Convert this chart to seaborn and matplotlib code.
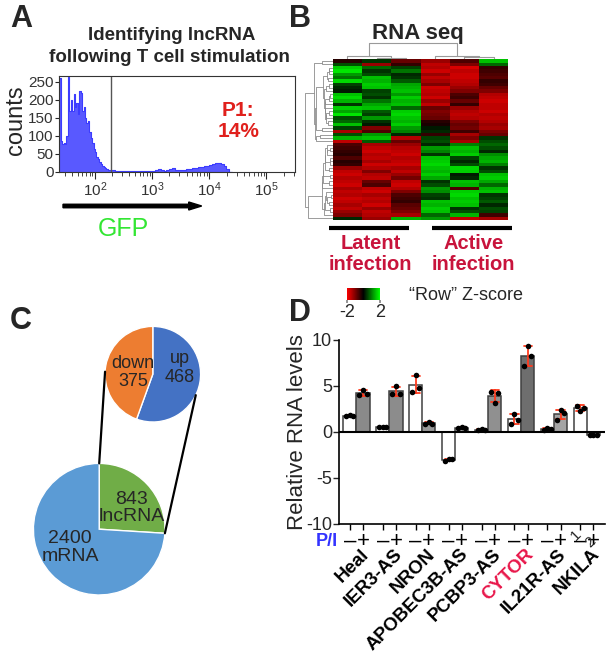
import numpy as np
import pandas as pd
import matplotlib
matplotlib.use("Agg")
import matplotlib.pyplot as plt
import matplotlib.transforms as mtransforms
from matplotlib.colors import LinearSegmentedColormap
from matplotlib.patches import ConnectionPatch
import seaborn as sns

# ================= DATA =================
# Panel A: GFP histogram (log10 bins)
hist_fine_edges = np.round(np.arange(1.375, 2.3001, 0.025), 4)
hist_fine_counts = [260, 85, 78, 80, 76, 100, 262, 170, 200, 170,
                    215, 180, 190, 160, 225, 218, 170, 180, 150, 135,
                    140, 110, 95, 80, 62, 55, 40, 35, 28, 22,
                    15, 12, 10, 8, 6, 5, 4]
hist_tail_edges = np.round(np.arange(2.3, 4.4001, 0.05), 4)
hist_tail_counts = [4, 3, 3, 2, 3, 2, 2, 3, 2, 2, 2, 3, 2, 2,
                    3, 4, 8, 6, 3, 4, 7, 10, 5, 4,
                    5, 6, 7, 8, 10, 11, 12, 13, 15, 17, 19, 22, 24, 24, 21, 16, 8, 0]
gate_log10 = 2.28
gate_text = "P1:\n14%"
hist_xticks = [2, 3, 4, 5]
hist_xticklabels = [r"$\mathregular{10^{2}}$", r"$\mathregular{10^{3}}$",
                    r"$\mathregular{10^{4}}$", r"$\mathregular{10^{5}}$"]
hist_yticks = [0, 50, 100, 150, 200, 250]

# Panel B: heatmap (rows = lncRNAs, columns = 3 latent + 3 active samples)
sample_names = ["L1", "L2", "L3", "A1", "A2", "A3"]
heat_rows = [
    [-0.3, 0.4, -0.8, -1.2, -0.6, 1.5],
    [0.6, -1.2, -0.4, -1.5, -1.0, 0.8],
    [1.6, 0.8, 0.5, -1.4, -1.7, -0.4],
    [1.8, 0.4, 0.9, -1.6, -1.5, -0.5],
    [1.2, 0.6, 0.3, -1.2, -1.6, -0.6],
    [0.9, 1.5, 0.4, -1.5, -1.6, -0.7],
    [1.7, 1.4, 0.7, -1.3, -1.5, -0.4],
    [0.5, 1.6, 1.3, -1.0, -1.4, -0.5],
    [0.3, 1.5, 1.4, -1.6, -1.2, -0.8],
    [0.2, 0.5, 1.5, -1.5, -1.0, -1.0],
    [1.5, 0.6, 1.2, -1.4, -0.6, -1.4],
    [1.7, 0.4, 1.6, -1.6, -0.5, -1.5],
    [1.4, 0.9, 1.4, -1.2, -0.8, -1.6],
    [0.4, 1.3, 1.5, -1.5, -0.4, -1.5],
    [1.6, 1.5, 0.8, -0.8, -1.2, -1.5],
    [1.3, 0.7, 1.6, -1.0, -1.4, -1.6],
    [1.8, 0.5, 1.7, -0.9, -1.5, -1.4],
    [0.6, 1.2, 1.5, -0.8, -1.4, -1.5],
    [0.8, 0.4, 1.4, -0.3, -1.0, -1.4],
    [1.5, 0.2, 1.6, -0.2, -0.8, -1.2],
    [0.5, -1.0, 1.2, 0.2, -0.9, -1.3],
    [-1.3, -0.6, 1.0, 0.3, -0.5, -1.0],
    [0.6, 1.2, 0.3, -0.4, -1.3, -0.8],
    [1.4, 1.5, -1.4, 0.5, -1.0, 0.4],
    [-1.5, 0.7, -0.8, 0.6, -1.3, 0.6],
    [-0.6, -1.3, -1.2, 0.3, 1.0, 0.8],
    [-0.5, -1.5, -1.4, 1.2, 1.5, 0.6],
    [-0.4, -1.6, -1.5, 1.0, 1.4, 0.3],
    [-0.3, -1.4, -1.6, 0.4, 1.6, 1.1],
    [-0.6, -1.5, -1.4, 1.5, 0.5, 1.3],
    [-0.3, -1.3, -1.5, 1.6, 0.3, 1.4],
    [-0.4, -1.6, -1.6, 1.7, 0.6, 1.0],
    [-1.2, -1.4, -1.3, 1.5, 1.7, 0.4],
    [-1.5, -1.0, -1.5, 1.4, 1.6, 0.6],
    [-1.6, -1.4, -1.2, 1.6, 0.2, 1.5],
    [-1.4, -1.5, -0.9, 1.3, 0.3, 1.6],
    [-1.5, -0.8, -1.5, 0.4, 1.5, 1.3],
    [-1.6, -0.6, -1.6, 0.6, 1.4, 0.8],
    [-1.3, -1.5, -1.4, 1.2, -0.6, 1.4],
    [-1.5, -1.6, -1.0, 1.1, 1.6, 1.5],
    [-1.4, -1.3, -0.6, 0.5, 1.7, 0.4],
    [-1.6, -1.5, -0.5, 0.4, 1.5, 0.5],
    [-1.5, -1.4, -0.4, 1.5, 1.6, 0.7],
    [-1.3, -1.6, -0.7, 1.4, 1.5, 0.3],
    [-1.5, -1.2, -0.8, 1.6, 0.4, 0.6],
    [-1.2, -1.5, -1.0, 1.5, 0.6, 0.5],
    [-1.0, -1.4, -1.3, 0.8, 1.4, -0.5],
    [0.3, -1.2, 1.4, 1.2, -1.5, -1.3],
]
# column linkage (scipy-style: idx_a, idx_b, height)
col_linkage = [[1, 2, 0.10], [4, 5, 0.12], [0, 6, 0.18], [3, 7, 0.20], [8, 9, 1.0]]
group_labels = ["Latent\ninfection", "Active\ninfection"]
group_spans = [(-0.14, 2.62), (3.38, 6.14)]

# Panel C: pies
big_values = [843, 2400]
big_labels = ["843\nlncRNA", "2400\nmRNA"]
small_values = [468, 375]
small_labels = ["up\n468", "down\n375"]

# Panel D: qPCR
genes = ["Heal", "IER3-AS", "NRON", "APOBEC3B-AS", "PCBP3-AS", "CYTOR", "IL21R-AS", "NKILA"]
reps_minus = [[1.70, 1.85, 1.75], [0.50, 0.50, 0.50], [4.40, 6.15, 4.80], [-3.10, -2.95, -2.95],
              [0.20, 0.35, 0.25], [0.90, 1.95, 1.34], [0.25, 0.40, 0.30], [2.86, 2.24, 2.64]]
reps_plus = [[4.00, 4.60, 4.15], [4.15, 5.00, 4.15], [0.90, 1.05, 0.85], [0.40, 0.55, 0.45],
             [4.40, 3.20, 4.20], [7.20, 9.40, 8.30], [1.34, 2.35, 2.06], [-0.30, -0.30, -0.30]]
plus_colors = ["#8a8a8a", "#8c8c8c", "#9a9a9a", "#a8a8a8", "#909090", "#6e6e6e", "#a4a4a4", "#9a9a9a"]
treat_levels = ["\u2013", "+"]

# ================= STYLE / LAYOUT =================
W, H = 609, 655
sns.set_theme(style="ticks")
plt.rcParams["font.family"] = ["Liberation Sans", "DejaVu Sans"]
plt.rcParams["mathtext.fontset"] = "custom"
plt.rcParams["mathtext.rm"] = "Liberation Sans"
plt.rcParams["mathtext.it"] = "Liberation Sans:italic"
plt.rcParams["mathtext.bf"] = "Liberation Sans:bold"

fig = plt.figure(figsize=(W / 100, H / 100), dpi=100)
fig.patch.set_facecolor("white")


def rect(l, t, r, b):
    return [l / W, 1 - b / H, (r - l) / W, (b - t) / H]


def P(x, y):
    return (x / W, 1 - y / H)


def ftext(x, y, s, **kw):
    kw.setdefault("ha", "center")
    kw.setdefault("va", "center")
    fig.text(*P(x, y), s, **kw)


# panel letters
for letter, (x, y) in zip("ABCD", [(21, 19), (300, 19), (21, 321), (300, 313)]):
    ftext(x, y, letter, fontsize=22, fontweight="bold")

# ---------------- Panel A ----------------
axA = fig.add_axes(rect(59.3, 76, 295, 171.7))
edges = np.concatenate([hist_fine_edges, hist_tail_edges[1:]])
counts = np.array(hist_fine_counts + hist_tail_counts, float)
centers = (edges[:-1] + edges[1:]) / 2
hdf = pd.DataFrame({"gfp": centers, "n": counts})
sns.histplot(data=hdf, x="gfp", weights="n", bins=list(edges), element="step", fill=True,
             color="#3c3cff", alpha=0.85, linewidth=0.8, ax=axA)
axA.axvline(gate_log10, color="#555555", lw=1)
axA.set_xlim(1.374, 5.5)
axA.set_ylim(0, 266)
axA.set_xticks(hist_xticks)
axA.set_xticklabels(hist_xticklabels, fontsize=11, color="#333333")
minor = [np.log10(m * 10 ** k) for k in range(1, 6) for m in range(2, 10)]
minor = [v for v in minor if 1.374 < v < 5.5]
axA.set_xticks(minor, minor=True)
axA.set_yticks(hist_yticks)
axA.set_yticklabels([str(v) for v in hist_yticks], fontsize=11, color="#333333")
axA.tick_params(axis="x", which="major", length=5, width=0.8, pad=1, direction="out")
axA.tick_params(axis="x", which="minor", length=3, width=0.6, direction="out")
axA.tick_params(axis="y", length=3, width=0.8, pad=1)
axA.set_xlabel("")
axA.set_ylabel("")
for s in axA.spines.values():
    s.set_visible(True)
    s.set_color("#333333")
    s.set_linewidth(0.8)
axA.text(0.76, 0.53, gate_text, transform=axA.transAxes, ha="center", va="center",
         fontsize=15, fontweight="bold", color="#e0201c", linespacing=1.15)
ftext(16, 120, "counts", fontsize=17, rotation=90)
ftext(172, 35, "Identifying lncRNA", fontsize=13.5, fontweight="bold")
ftext(169, 58, "following T cell stimulation", fontsize=13.5, fontweight="bold")
fig.add_artist(matplotlib.patches.FancyArrow(*P(63, 206), (201.7 - 63 - 13) / W, 0,
                                             width=3.5 / H, head_width=8 / H, head_length=13 / W,
                                             length_includes_head=False, color="black",
                                             transform=fig.transFigure))
ftext(123, 229, "GFP", fontsize=18, color="#33e633")

# ---------------- Panel B ----------------
heat = pd.DataFrame(heat_rows, columns=sample_names)
n_rows, n_cols = heat.shape
axH = fig.add_axes(rect(332.7, 59.3, 508.3, 220))
axCB = fig.add_axes(rect(346.7, 288.3, 380, 300))
cmap = LinearSegmentedColormap.from_list("rkg", ["#ff0000", "#000000", "#00ff00"])
sns.heatmap(heat, ax=axH, cmap=cmap, vmin=-2, vmax=2, cbar_ax=axCB,
            cbar_kws={"orientation": "horizontal", "ticks": [-2, 2]},
            xticklabels=False, yticklabels=False)
axCB.tick_params(length=2, labelsize=13, pad=1, color="#888888")
axCB.set_xticklabels(["-2", "2"])
axH.collections[0].colorbar.outline.set_visible(False)
ftext(466, 296, "\u201cRow\u201d Z-score", fontsize=13)
ftext(418, 33, "RNA seq", fontsize=16, fontweight="bold")


def adjacent_linkage(X):
    X = np.asarray(X, float)
    clusters = [[i] for i in range(len(X))]
    pos = [i + 0.5 for i in range(len(X))]
    hts = [0.0] * len(X)
    segs = []
    while len(clusters) > 1:
        dists = []
        for j in range(len(clusters) - 1):
            a, b = X[clusters[j]], X[clusters[j + 1]]
            d = np.sqrt(((a[:, None, :] - b[None, :, :]) ** 2).sum(-1)).mean()
            dists.append(d)
        j = int(np.argmin(dists))
        h = max(dists[j], hts[j], hts[j + 1]) + 0.01
        segs.append((pos[j], hts[j], pos[j + 1], hts[j + 1], h))
        clusters[j:j + 2] = [clusters[j] + clusters[j + 1]]
        pos[j:j + 2] = [(pos[j] + pos[j + 1]) / 2]
        hts[j:j + 2] = [h]
    return segs


def linkage_segments(Z, n):
    pos = {i: i + 0.5 for i in range(n)}
    hts = {i: 0.0 for i in range(n)}
    segs = []
    for k, (a, b, h) in enumerate(Z):
        segs.append((pos[a], hts[a], pos[b], hts[b], h))
        pos[n + k] = (pos[a] + pos[b]) / 2
        hts[n + k] = h
    return segs


# row dendrogram
axRD = fig.add_axes(rect(305, 59.3, 332.7, 220))
rsegs = adjacent_linkage(heat.values)
for p1, h1, p2, h2, h in rsegs:
    axRD.plot([h1, h, h, h2], [p1, p1, p2, p2], color="#8c8c8c", lw=0.6)
axRD.set_xlim(max(s[4] for s in rsegs) * 1.01, 0)
axRD.set_ylim(n_rows, 0)
axRD.axis("off")

# column dendrogram
axCD = fig.add_axes(rect(332.7, 42, 508.3, 59.3))
for p1, h1, p2, h2, h in linkage_segments(col_linkage, n_cols):
    axCD.plot([p1, p1, p2, p2], [h1, h, h, h2], color="#9a9a9a", lw=0.8)
axCD.set_xlim(0, n_cols)
axCD.set_ylim(0, 1.05)
axCD.axis("off")

btrans = mtransforms.blended_transform_factory(axH.transData, axH.transAxes)
for (x0, x1), lab in zip(group_spans, group_labels):
    axH.plot([x0, x1], [-0.05, -0.05], transform=btrans, clip_on=False,
             color="black", lw=3, solid_capstyle="butt")
    axH.text((x0 + x1) / 2 + 0.05, -0.21, lab, transform=btrans, ha="center", va="center",
             fontsize=14.5, fontweight="bold", color="#c8143c", linespacing=1.15)

# ---------------- Panel C ----------------
blue_dark, orange = "#4472c4", "#ed7d31"
green, blue_light = "#70ad47", "#5b9bd5"
axS = fig.add_axes(rect(105, 326.4, 200.6, 422))
axS.pie(small_values, colors=[blue_dark, orange], startangle=90, counterclock=False,
        wedgeprops=dict(edgecolor="white", linewidth=1))
axS.set_xlim(-1, 1)
axS.set_ylim(-1, 1)
axS.text(0.57, 0.13, small_labels[0], ha="center", va="center", fontsize=13, linespacing=1.1)
axS.text(-0.41, 0.03, small_labels[1], ha="center", va="center", fontsize=13, linespacing=1.1)

axL = fig.add_axes(rect(33.4, 463.4, 165, 595))
axL.pie(big_values, colors=[green, blue_light], startangle=90, counterclock=False,
        wedgeprops=dict(edgecolor="white", linewidth=1))
axL.set_xlim(-1, 1)
axL.set_ylim(-1, 1)
axL.text(0.49, 0.32, big_labels[0], ha="center", va="center", fontsize=14, linespacing=1.05)
axL.text(-0.44, -0.275, big_labels[1], ha="center", va="center", fontsize=14, linespacing=1.05)

theta_end = np.deg2rad(90 - 360 * big_values[0] / sum(big_values))
for a_pt, b_ang in [((0.0, 1.0), 177), ((np.cos(theta_end), np.sin(theta_end)), -26)]:
    b = np.deg2rad(b_ang)
    con = ConnectionPatch(xyA=a_pt, coordsA=axL.transData,
                          xyB=(np.cos(b), np.sin(b)), coordsB=axS.transData,
                          color="black", lw=1.6)
    fig.add_artist(con)

# ---------------- Panel D ----------------
rows = []
for g, rm, rp in zip(genes, reps_minus, reps_plus):
    for v in rm:
        rows.append((g, treat_levels[0], v))
    for v in rp:
        rows.append((g, treat_levels[1], v))
qdf = pd.DataFrame(rows, columns=["gene", "treat", "value"])

axD = fig.add_axes(rect(339, 340, 605, 524))
sns.barplot(data=qdf, x="gene", y="value", hue="treat", order=genes, hue_order=treat_levels,
            palette={treat_levels[0]: "white", treat_levels[1]: "#8c8c8c"},
            errorbar="sd", capsize=0.5, err_kws={"color": "#ff3b1f", "linewidth": 1.3},
            edgecolor="#404040", linewidth=1.1, legend=False, ax=axD)
bar_conts = [c for c in axD.containers if isinstance(c, matplotlib.container.BarContainer)]
for patch, col in zip(bar_conts[1].patches, plus_colors):
    patch.set_facecolor(col)

rep_offsets = [-0.11, 0.0, 0.11]
xs, ys = [], []
for i in range(len(genes)):
    for dx, reps in [(-0.2, reps_minus[i]), (0.2, reps_plus[i])]:
        for off, v in zip(rep_offsets, reps):
            xs.append(i + dx + off)
            ys.append(v)
axD.scatter(xs, ys, s=16, color="black", zorder=4, linewidths=0)

axD.axhline(0, color="black", lw=1.5, zorder=5)
axD.set_xlim(-0.53, 7.55)
axD.set_ylim(-10, 10)
axD.set_yticks([-10, -5, 0, 5, 10])
axD.set_yticklabels(["-10", "-5", "0", "5", "10"], fontsize=13)
tick_pos, tick_lab = [], []
for i in range(len(genes)):
    tick_pos += [i - 0.2, i + 0.2]
    tick_lab += treat_levels
axD.set_xticks(tick_pos)
axD.set_xticklabels(tick_lab, fontsize=16)
axD.tick_params(axis="x", length=4, width=1, pad=1, colors="black")
axD.tick_params(axis="y", length=4, width=1, pad=1)
sns.despine(ax=axD)
for s in ["left", "bottom"]:
    axD.spines[s].set_linewidth(1.2)
    axD.spines[s].set_color("black")
axD.set_xlabel("")
axD.set_ylabel("Relative RNA levels", fontsize=16)
axD.yaxis.set_label_coords(-0.118, 0.5)

dtrans = mtransforms.blended_transform_factory(axD.transData, axD.transAxes)
for i, g in enumerate(genes):
    axD.text(i + 0.12, -0.118, g, transform=dtrans, rotation=45, rotation_mode="anchor",
             ha="right", va="top", fontsize=13.5, fontweight="bold",
             color="#e8174a" if g == "CYTOR" else "black")
axD.text(7 - 0.32, -0.06, "1", transform=dtrans, rotation=45, ha="center", va="center", fontsize=11)
axD.text(7 + 0.12, -0.10, "2", transform=dtrans, rotation=45, ha="center", va="center", fontsize=11)
ftext(327, 541, "P/I", fontsize=13, fontweight="bold", color="#3333ff")

fig.savefig("out.png", dpi=100, facecolor="white")
